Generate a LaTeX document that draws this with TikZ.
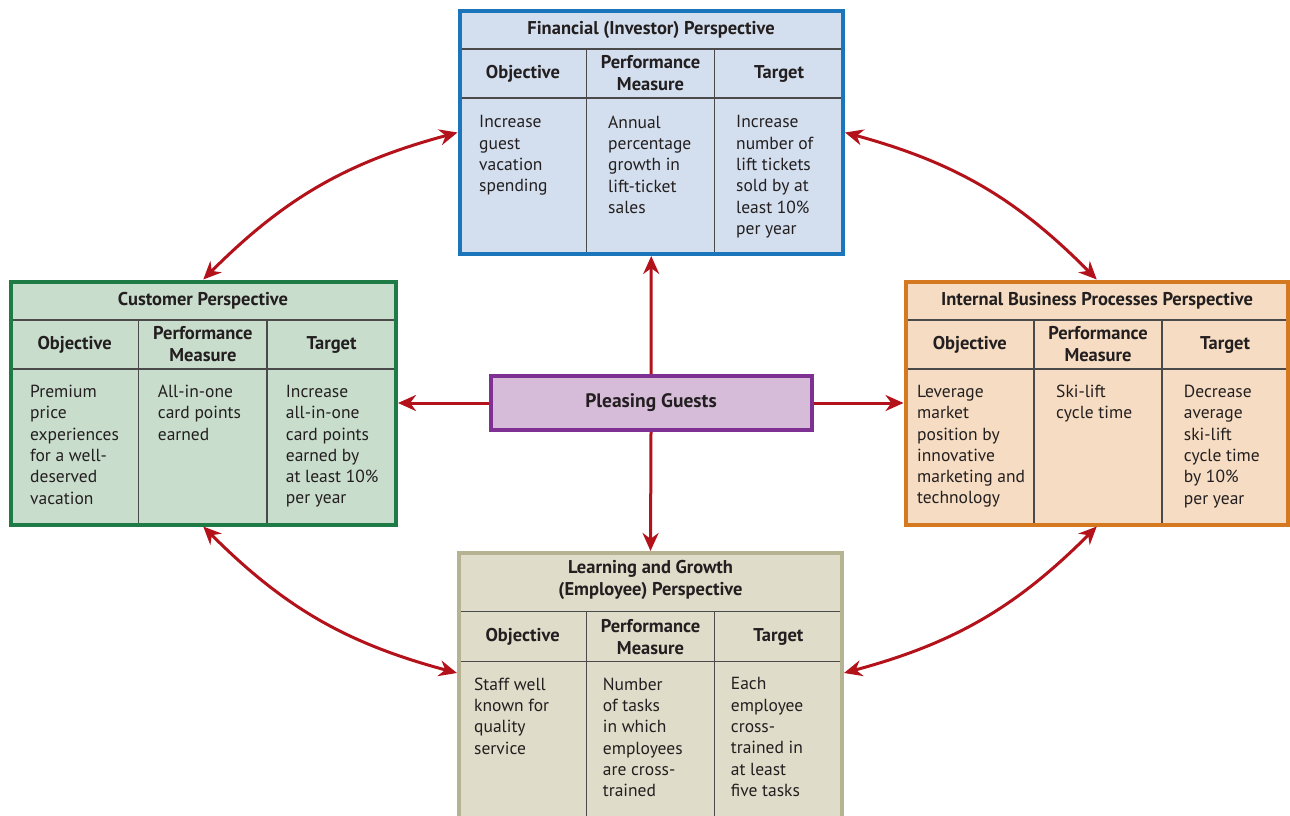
\documentclass[tikz,border=0pt]{standalone}
\usepackage{fontspec}
\setmainfont{PT Sans}
\usepackage{tikz}
\usetikzlibrary{arrows.meta}
\definecolor{fincolor}{HTML}{1B75BB}
\definecolor{finfill}{HTML}{D3DFEE}
\definecolor{custcolor}{HTML}{1F7B45}
\definecolor{custfill}{HTML}{C9DDCC}
\definecolor{intcolor}{HTML}{D4791F}
\definecolor{intfill}{HTML}{F5DCC2}
\definecolor{learncolor}{HTML}{B6B393}
\definecolor{learnfill}{HTML}{DFDCC9}
\definecolor{guestcolor}{HTML}{7F3193}
\definecolor{guestfill}{HTML}{D6BCD9}
\definecolor{linkcolor}{HTML}{B4121B}
\definecolor{rulecolor}{HTML}{4A4A4A}
\definecolor{inkcolor}{HTML}{231F20}

\begin{document}
\begin{tikzpicture}[x=1pt, y=-1pt,
    panel/.style={rectangle, draw=#1color, fill=#1fill, line width=4pt, inner sep=0pt},
    rule/.style={rulecolor, line width=1.3pt},
    title/.style={font=\bfseries\fontsize{18.5}{22}\selectfont, text=inkcolor, align=center},
    head/.style={font=\bfseries\fontsize{18.5}{22}\selectfont, text=inkcolor, align=center},
    cell/.style={font=\fontsize{17.5}{21.3}\selectfont, text=inkcolor, align=left, anchor=north west, inner sep=0pt},
    arrow/.style={-{Stealth[length=18pt, width=16pt]}, linkcolor, line width=3pt},
    link/.style={{Stealth[length=18pt, width=16pt]}-{Stealth[length=18pt, width=16pt]}, linkcolor, line width=3pt}
]
\useasboundingbox (0,0) rectangle (1290,815);

% Four perspective panels and the hub
\node[panel=fin, minimum width=383.5pt, minimum height=243pt] (fin) at (651.25,132.5) {};
\node[panel=cust, minimum width=385.5pt, minimum height=243pt] (cust) at (203.25,403) {};
\node[panel=int, minimum width=382.5pt, minimum height=243pt] (int) at (1096.75,403) {};
\node[panel=learn, minimum width=383pt, minimum height=290pt] (learn) at (650.5,698) {};
\node[panel=guest, minimum width=321pt, minimum height=54pt] (guests) at (651,403)
    {\bfseries\fontsize{19.5}{22}\selectfont\color{inkcolor}Pleasing Guests};

% Financial panel
\draw[rule] (461.5,49) -- (841,49);
\draw[rule] (461.5,98) -- (841,98);
\draw[rule] (586.3,49) -- (586.3,252);
\draw[rule] (714.7,49) -- (714.7,252);
\node[title] (fintitle) at (651,30) {Financial (Investor) Perspective};
\node[head] (finobj) at (523,73.5) {Objective};
\node[head] (finmeas) at (650.5,73.5) {Performance\\Measure};
\node[head] (fintarget) at (779,73.5) {Target};
\node[cell] (finobjtext) at (479,115.5) {Increase\\guest\\vacation\\spending};
\node[cell] (finmeastext) at (608,115.5) {Annual\\percentage\\growth in\\lift-ticket\\sales};
\node[cell] (fintargettext) at (736,115.5) {Increase\\number of\\lift tickets\\sold by at\\least 10\%\\per year};

% Customer panel
\draw[rule] (12.5,320) -- (394,320);
\draw[rule] (12.5,369) -- (394,369);
\draw[rule] (138.7,320) -- (138.7,522.5);
\draw[rule] (267,320) -- (267,522.5);
\node[title] (custtitle) at (203,300.7) {Customer Perspective};
\node[head] (custobj) at (74.6,344.5) {Objective};
\node[head] (custmeas) at (202.9,344.5) {Performance\\Measure};
\node[head] (custtarget) at (331.5,344.5) {Target};
\node[cell] (custobjtext) at (30,385) {Premium\\price\\experiences\\for a well-\\deserved\\vacation};
\node[cell] (custmeastext) at (157.7,385) {All-in-one\\card points\\earned};
\node[cell] (custtargettext) at (285.7,385) {Increase\\all-in-one\\card points\\earned by\\at least 10\%\\per year};

% Internal business processes panel
\draw[rule] (907.5,320) -- (1286,320);
\draw[rule] (907.5,369) -- (1286,369);
\draw[rule] (1034,320) -- (1034,522.5);
\draw[rule] (1162,320) -- (1162,522.5);
\node[title] (inttitle) at (1097,300.7) {Internal Business Processes Perspective};
\node[head] (intobj) at (969.8,344.5) {Objective};
\node[head] (intmeas) at (1098,344.5) {Performance\\Measure};
\node[head] (inttarget) at (1225,344.5) {Target};
\node[cell] (intobjtext) at (917,385) {Leverage\\market\\position by\\innovative\\marketing and\\technology};
\node[cell] (intmeastext) at (1056,385) {Ski-lift\\cycle time};
\node[cell] (inttargettext) at (1183.7,385) {Decrease\\average\\ski-lift\\cycle time\\by 10\%\\per year};

% Learning and growth panel
\draw[rule] (461,611.7) -- (840,611.7);
\draw[rule] (461,661.7) -- (840,661.7);
\draw[rule] (586.3,611.7) -- (586.3,840);
\draw[rule] (714.7,611.7) -- (714.7,840);
\node[title] (learntitle) at (650.5,580) {Learning and Growth\\(Employee) Perspective};
\node[head] (learnobj) at (522.6,636.7) {Objective};
\node[head] (learnmeas) at (650.5,636.7) {Performance\\Measure};
\node[head] (learntarget) at (778.4,636.7) {Target};
\node[cell] (learnobjtext) at (474,677.5) {Staff well\\known for\\quality\\service};
\node[cell] (learnmeastext) at (602.7,677.5) {Number\\of tasks\\in which\\employees\\are cross-\\trained};
\node[cell] (learntargettext) at (730.7,677.5) {Each\\employee\\cross-\\trained in\\at least\\five tasks};

% Arrow ends on the learning panel sides
\coordinate (learnW) at ([yshift=-122pt]learn.north west);
\coordinate (learnE) at ([yshift=-122pt]learn.north east);

% Hub to each perspective
\draw[arrow] (guests.north) -- (fin.south);
\draw[arrow] (guests.south) -- (learn.north);
\draw[arrow] (guests.west) -- (cust.east);
\draw[arrow] (guests.east) -- (int.west);

% Links between neighbouring perspectives
\draw[link] (fin.west) to[bend right=15] (cust.north);
\draw[link] (fin.east) to[bend left=15] (int.north);
\draw[link] (cust.south) to[bend right=15] (learnW);
\draw[link] (int.south) to[bend left=15] (learnE);
\end{tikzpicture}
\end{document}
